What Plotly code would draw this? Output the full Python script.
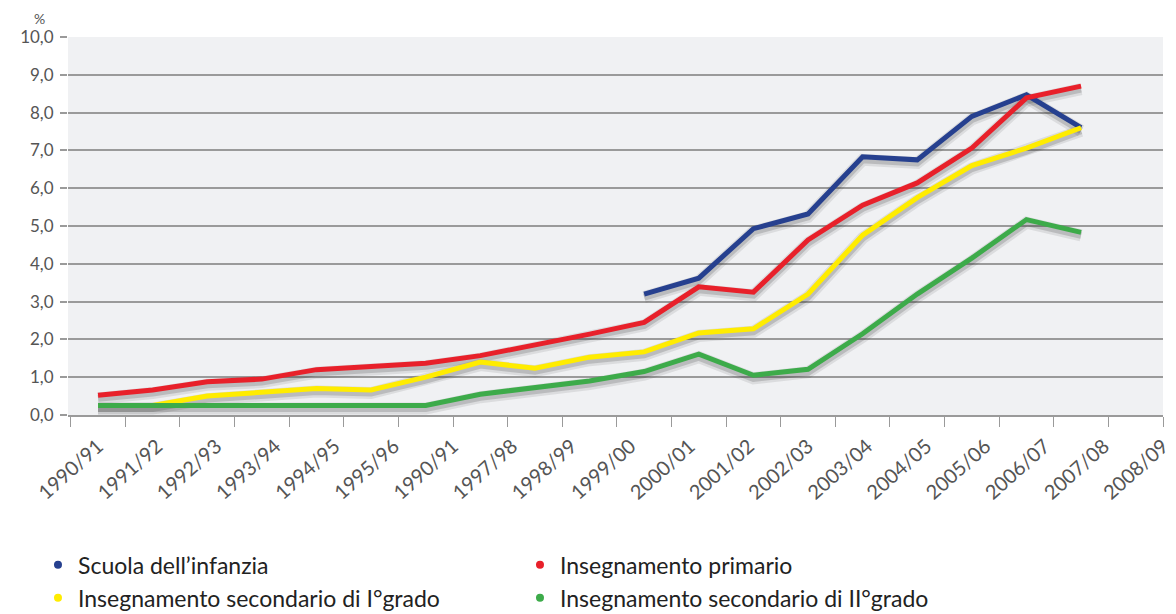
import numpy as np
import plotly.graph_objects as go

years = ["1990/91", "1991/92", "1992/93", "1993/94", "1994/95", "1995/96", "1990/91",
         "1997/98", "1998/99", "1999/00", "2000/01", "2001/02", "2002/03", "2003/04",
         "2004/05", "2005/06", "2006/07", "2007/08", "2008/09"]

infanzia = [None, None, None, None, None, None, None, None, None, None,
            3.20, 3.62, 4.93, 5.32, 6.83, 6.75, 7.90, 8.47, 7.60]
primario = [0.52, 0.66, 0.88, 0.95, 1.20, 1.30, 1.37, 1.57, 1.85, 2.14,
            2.45, 3.39, 3.25, 4.63, 5.55, 6.14, 7.06, 8.39, 8.70]
sec_primo = [0.25, 0.25, 0.50, 0.60, 0.70, 0.66, 1.00, 1.40, 1.24, 1.53,
             1.67, 2.17, 2.28, 3.20, 4.76, 5.75, 6.60, 7.06, 7.60]
sec_secondo = [0.25, 0.25, 0.25, 0.25, 0.25, 0.25, 0.25, 0.55, 0.72, 0.90,
               1.15, 1.61, 1.05, 1.21, 2.15, 3.20, 4.15, 5.17, 4.83]

series = [
    ("Scuola dell\u2019infanzia", infanzia, "#26408f"),
    ("Insegnamento primario", primario, "#e8202a"),
    ("Insegnamento secondario di I\u00b0grado", sec_primo, "#ffec00"),
    ("Insegnamento secondario di II\u00b0grado", sec_secondo, "#3dab4a"),
]

x = list(range(len(years)))
FONT = "Lato"

fig = go.Figure()

# soft drop shadows (drawn on a slightly shifted overlay axis)
for name, vals, col in series:
    fig.add_trace(go.Scatter(x=x, y=vals, mode="lines", yaxis="y2",
                             line=dict(color="rgba(40,40,40,0.10)", width=12),
                             hoverinfo="skip", showlegend=False))
    fig.add_trace(go.Scatter(x=x, y=vals, mode="lines", yaxis="y2",
                             line=dict(color="rgba(40,40,40,0.18)", width=7),
                             hoverinfo="skip", showlegend=False))
# main lines
for name, vals, col in series:
    fig.add_trace(go.Scatter(x=x, y=vals, mode="lines", yaxis="y3", name=name,
                             line=dict(color=col, width=5, shape="linear"),
                             showlegend=False))
# legend entries (dots)
for name, vals, col in series:
    fig.add_trace(go.Scatter(x=[None], y=[None], mode="markers", name=name,
                             marker=dict(color=col, size=8), showlegend=True))

label_pos = np.linspace(0.0, 19.5, len(years))
bound_pos = np.arange(-0.5, 20.0, 1.0)

fig.update_layout(
    width=1176, height=614,
    margin=dict(l=46, r=21, t=29, b=207),
    paper_bgcolor="white",
    plot_bgcolor="#f0f1f3",
    separators=",.",
    font=dict(family=FONT, color="#555555"),
    xaxis=dict(
        range=[-0.55, 19.5],
        tickmode="array", tickvals=label_pos, ticktext=years,
        tickangle=-42, tickfont=dict(size=20, color="#555555"),
        ticks="outside", ticklen=10, tickcolor="rgba(0,0,0,0)",
        showgrid=False, zeroline=False,
        showline=True, linecolor="#9a9a9a", linewidth=1.5,
        minor=dict(tickmode="array", tickvals=bound_pos, ticks="outside",
                   ticklen=10, tickwidth=1.2, tickcolor="#9a9a9a", showgrid=False),
    ),
    yaxis=dict(
        range=[0, 10], tickmode="linear", tick0=0, dtick=1, tickformat=".1f",
        tickfont=dict(size=17, color="#555555"),
        showgrid=True, gridcolor="#9a9a9a", gridwidth=1.5,
        ticks="outside", ticklen=7, tickcolor="#9a9a9a", tickwidth=1.5,
        ticklabelstandoff=3,
        zeroline=False, showline=False,
    ),
    yaxis2=dict(range=[0.08, 10.08], overlaying="y", visible=False),
    yaxis3=dict(range=[0, 10], overlaying="y", visible=False),
    legend=dict(
        orientation="h", xref="container", yref="container",
        x=0.0255, y=0.128, xanchor="left", yanchor="top",
        entrywidth=437, entrywidthmode="pixels",
        font=dict(family=FONT, size=23, color="#222222"),
        itemwidth=30, bgcolor="rgba(0,0,0,0)",
    ),
    annotations=[dict(text="%", xref="paper", yref="paper", x=-0.026, y=1.0,
                      yshift=8, showarrow=False, xanchor="center", yanchor="bottom",
                      font=dict(size=14, color="#555555"))],
)

fig.write_html("out.html")
